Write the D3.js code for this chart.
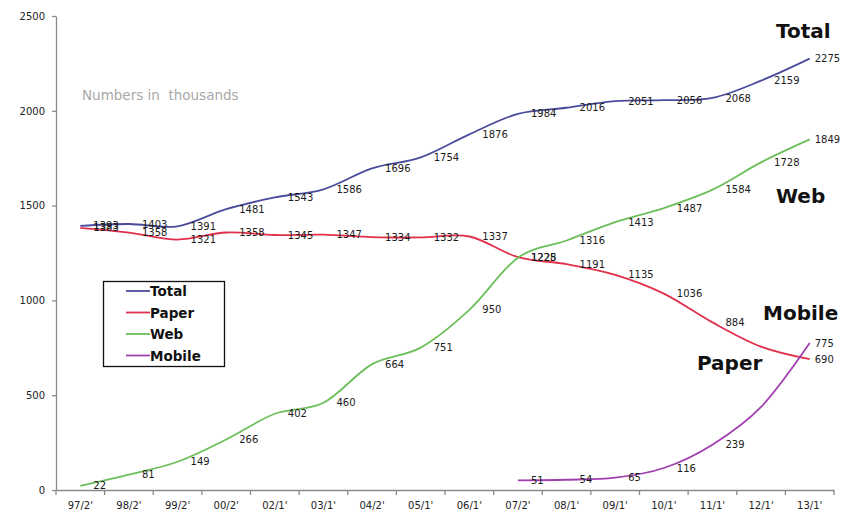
<!DOCTYPE html>
<html>
<head>
<meta charset="utf-8">
<script src="https://cdn.jsdelivr.net/npm/d3@7"></script>
<style>
  html, body { margin: 0; padding: 0; background: #fff; }
  svg { display: block; }
  text { font-family: "DejaVu Sans", Verdana, sans-serif; }
</style>
</head>
<body>
<svg id="chart" width="842" height="512"></svg>
<script>
// Periods along the horizontal axis
const periods = ["97/2'", "98/2'", "99/2'", "00/2'", "02/1'", "03/1'", "04/2'", "05/1'",
                 "06/1'", "07/2'", "08/1'", "09/1'", "10/1'", "11/1'", "12/1'", "13/1'"];

// Readership figures, in thousands
const total  = [1393, 1403, 1391, 1481, 1543, 1586, 1696, 1754, 1876, 1984, 2016, 2051, 2056, 2068, 2159, 2275];
const paper  = [1383, 1358, 1321, 1358, 1345, 1347, 1334, 1332, 1337, 1228, 1191, 1135, 1036, 884, 756, 690];
const web    = [22, 81, 149, 266, 402, 460, 664, 751, 950, 1225, 1316, 1413, 1487, 1584, 1728, 1849];
const mobile = [null, null, null, null, null, null, null, null, null, 51, 54, 65, 116, 239, 438, 775];

// Periods whose value label is left off
const paperUnlabeled  = ["12/1'"];
const mobileUnlabeled = ["12/1'"];

const yTicks = [0, 500, 1000, 1500, 2000, 2500];

const series = [
  { name: "Total",  values: total,  color: "#4b4b9c", unlabeled: [] },
  { name: "Paper",  values: paper,  color: "#e0304c", unlabeled: paperUnlabeled },
  { name: "Web",    values: web,    color: "#6cbf5a", unlabeled: [] },
  { name: "Mobile", values: mobile, color: "#a040ae", unlabeled: mobileUnlabeled }
];

// Large series captions placed beside the lines
const captions = [
  { text: "Total",  x: 776, y: 38 },
  { text: "Web",    x: 776, y: 203 },
  { text: "Mobile", x: 763, y: 320 },
  { text: "Paper",  x: 697, y: 370 }
];

const svg = d3.select("#chart");
const axisColor = "#8a8a8a";

const x = d3.scaleBand().domain(periods).range([56, 834]).padding(0);
const y = d3.scaleLinear().domain([0, 2500]).range([490, 16]);
const cx = p => x(p) + x.bandwidth() / 2;
const lastPeriod = periods[periods.length - 1];

// Y axis
const yAxis = svg.append("g")
  .attr("transform", "translate(56,0)")
  .call(d3.axisLeft(y).tickValues(yTicks).tickFormat(d3.format("d"))
    .tickSize(4).tickPadding(7).tickSizeOuter(0));
yAxis.select(".domain").attr("stroke", axisColor).attr("stroke-width", 1.3);
yAxis.selectAll(".tick line").attr("stroke", axisColor).attr("stroke-width", 1.3);
yAxis.selectAll(".tick text").attr("font-size", 10).attr("fill", "#222");

// X axis: labels centred in each period, ticks on the period boundaries
const xAxis = svg.append("g")
  .attr("transform", "translate(0,490)")
  .call(d3.axisBottom(x).tickSize(0).tickPadding(12).tickSizeOuter(0));
xAxis.select(".domain").attr("stroke", axisColor).attr("stroke-width", 1.3);
xAxis.selectAll(".tick text").attr("font-size", 10).attr("fill", "#222");
const edges = periods.map(p => x(p)).concat([x(lastPeriod) + x.bandwidth()]);
xAxis.selectAll("line.edge")
  .data(edges)
  .enter().append("line")
  .attr("class", "edge")
  .attr("x1", d => d).attr("x2", d => d)
  .attr("y1", 0).attr("y2", 5)
  .attr("stroke", axisColor).attr("stroke-width", 1.3);

// Note on units
svg.append("text")
  .attr("x", 82).attr("y", 100)
  .attr("font-size", 13.5)
  .attr("fill", "#a8a8a8")
  .attr("xml:space", "preserve")
  .text("Numbers in  thousands");

// Lines
const line = d3.line()
  .x(d => cx(d.period))
  .y(d => y(d.value))
  .curve(d3.curveCatmullRom.alpha(0));

series.forEach(s => {
  const pts = periods.map((p, i) => ({ period: p, value: s.values[i] }))
    .filter(d => d.value !== null);
  s.points = pts;
  svg.append("path")
    .datum(pts)
    .attr("fill", "none")
    .attr("stroke", s.color)
    .attr("stroke-width", 1.8)
    .attr("d", line);
});

// Value labels to the right of each point; the last column is pulled in to stay on the page
series.forEach(s => {
  svg.append("g")
    .selectAll("text")
    .data(s.points.filter(d => !s.unlabeled.includes(d.period)))
    .enter().append("text")
    .attr("x", d => cx(d.period) + (d.period === lastPeriod ? 5 : 13))
    .attr("y", d => y(d.value) + 3.6)
    .attr("font-size", 10)
    .attr("fill", "#1a1a1a")
    .text(d => d.value);
});

// Series captions
svg.append("g")
  .selectAll("text")
  .data(captions)
  .enter().append("text")
  .attr("x", d => d.x).attr("y", d => d.y)
  .attr("font-size", 20)
  .attr("font-weight", "bold")
  .attr("fill", "#111")
  .text(d => d.text);

// Legend
const legend = svg.append("g");
legend.append("rect")
  .attr("x", 103.5).attr("y", 281.5)
  .attr("width", 121).attr("height", 85)
  .attr("fill", "#fff")
  .attr("stroke", "#111").attr("stroke-width", 1.3);
const rows = legend.selectAll("g.row")
  .data(series)
  .enter().append("g")
  .attr("class", "row")
  .attr("transform", (d, i) => `translate(0,${291 + i * 21.5})`);
rows.append("line")
  .attr("x1", 126).attr("x2", 150)
  .attr("y1", 0).attr("y2", 0)
  .attr("stroke", d => d.color).attr("stroke-width", 1.8);
rows.append("text")
  .attr("x", 150).attr("y", 5)
  .attr("font-size", 13.5)
  .attr("font-weight", "bold")
  .attr("fill", "#111")
  .text(d => d.name);
</script>
</body>
</html>
